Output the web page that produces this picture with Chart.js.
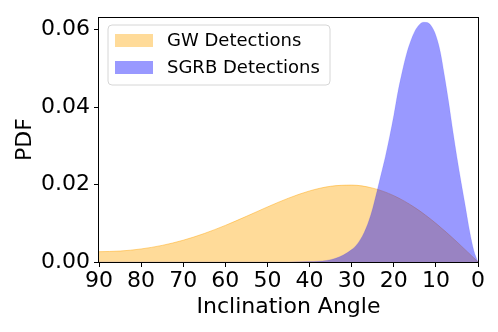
<!DOCTYPE html>
<html>
<head>
<meta charset="utf-8">
<script src="https://cdn.jsdelivr.net/npm/chart.js@4/dist/chart.umd.min.js"></script>
<style>
  html, body { margin: 0; padding: 0; background: #fff; }
  #wrap { width: 498px; height: 332px; }
</style>
</head>
<body>
<div id="wrap"><canvas id="chart" width="498" height="332"></canvas></div>
<script>
const gwAngles = [90, 85, 80, 75, 70, 65, 60, 55, 50, 45, 40, 35, 30, 25, 20, 15, 10, 5, 0];
const gwPdf = [0.00266, 0.00283, 0.00337, 0.00429, 0.00562, 0.00736, 0.00945, 0.01179, 0.01421,
  0.01648, 0.01835, 0.01955, 0.01985, 0.01907, 0.01713, 0.01405, 0.00998, 0.00519, 0];

const sgrbAngles = [90, 50, 45, 40, 38, 36, 34, 32, 30, 29, 28, 27, 26, 25, 24, 23, 22, 21, 20, 19,
  18, 17, 16, 15, 14, 13, 12, 11, 10, 9, 8, 7, 6, 5, 4, 3, 2, 1, 0];
const sgrbPdf = [0, 0, 0, 0.0001, 0.0002, 0.0004, 0.0009, 0.0018, 0.0032, 0.0042, 0.0057, 0.0077,
  0.0104, 0.0139, 0.0182, 0.0227, 0.0272, 0.0323, 0.0378, 0.0440, 0.0491, 0.0536, 0.0570, 0.0596,
  0.0612, 0.0619, 0.0618, 0.0608, 0.0585, 0.0545, 0.0483, 0.0415, 0.0340, 0.0270, 0.0205, 0.0143,
  0.0080, 0.0030, 0];

const xTicks = [90, 80, 70, 60, 50, 40, 30, 20, 10, 0];
const yTicks = [0, 0.02, 0.04, 0.06];
const seriesNames = ["GW Detections", "SGRB Detections"];

const FONT = "'DejaVu Sans', sans-serif";

const toPoints = (xs, ys) => xs.map((x, i) => ({ x: x, y: ys[i] }));

// matplotlib style frame + legend box inside the axes
const framePlugin = {
  id: "frame",
  afterDraw(chart) {
    const c = chart.ctx;
    const a = chart.chartArea;
    c.save();
    c.strokeStyle = "#000";
    c.lineWidth = 1;
    c.strokeRect(Math.round(a.left) - 0.5, Math.round(a.top) + 0.5,
      Math.round(a.right - a.left) + 1, Math.round(a.bottom - a.top));

    // legend
    const lx = 108, ly = 25, lw = 222, lh = 60, r = 4;
    c.beginPath();
    c.moveTo(lx + r, ly);
    c.arcTo(lx + lw, ly, lx + lw, ly + lh, r);
    c.arcTo(lx + lw, ly + lh, lx, ly + lh, r);
    c.arcTo(lx, ly + lh, lx, ly, r);
    c.arcTo(lx, ly, lx + lw, ly, r);
    c.closePath();
    c.fillStyle = "rgba(255,255,255,0.8)";
    c.fill();
    c.strokeStyle = "#d6d6d6";
    c.stroke();

    const ds = chart.data.datasets;
    c.font = "18px " + FONT;
    c.textBaseline = "middle";
    c.textAlign = "left";
    seriesNames.forEach((name, i) => {
      const py = 34 + i * 27;
      c.fillStyle = ds[i].backgroundColor;
      c.fillRect(115, py, 38, 13);
      c.fillStyle = "#000";
      c.fillText(name, 167, py + 7);
    });
    c.restore();
  },
};

const chart = new Chart(document.getElementById("chart"), {
  type: "line",
  data: {
    datasets: [
      {
        label: seriesNames[0],
        data: toPoints(gwAngles, gwPdf),
        backgroundColor: "rgba(255,165,0,0.4)",
        borderColor: "rgba(255,165,0,0.45)",
        borderWidth: 1,
        fill: "origin",
        pointRadius: 0,
        cubicInterpolationMode: "monotone",
        order: 1,
      },
      {
        label: seriesNames[1],
        data: toPoints(sgrbAngles, sgrbPdf),
        backgroundColor: "rgba(0,0,255,0.4)",
        borderColor: "rgba(0,0,255,0.12)",
        borderWidth: 1,
        fill: "origin",
        pointRadius: 0,
        cubicInterpolationMode: "monotone",
        order: 0,
      },
    ],
  },
  options: {
    responsive: false,
    animation: false,
    layout: { padding: { top: 16, right: 20, left: 0, bottom: 0 } },
    plugins: {
      legend: { display: false },
      tooltip: { enabled: false },
    },
    scales: {
      x: {
        type: "linear",
        reverse: true,
        min: 0,
        max: 90,
        afterBuildTicks: (s) => { s.ticks = xTicks.map((v) => ({ value: v })); },
        afterFit: (s) => { s.height = 70; },
        grid: { display: true, drawOnChartArea: false, drawTicks: true, tickLength: 5, tickColor: "#000" },
        border: { display: false },
        ticks: { color: "#000", font: { family: FONT, size: 22 }, padding: 1, maxRotation: 0, autoSkip: false },
        title: { display: true, text: "Inclination Angle", color: "#000", font: { family: FONT, size: 22 }, padding: { top: 0, bottom: 12 } },
      },
      y: {
        type: "linear",
        min: 0,
        max: 0.0632,
        afterBuildTicks: (s) => { s.ticks = yTicks.map((v) => ({ value: v })); },
        afterFit: (s) => { s.width = 99; },
        grid: { display: true, drawOnChartArea: false, drawTicks: true, tickLength: 5, tickColor: "#000" },
        border: { display: false },
        ticks: { color: "#000", font: { family: FONT, size: 22 }, padding: 4, callback: (v) => v.toFixed(2) },
        title: { display: true, text: "PDF", color: "#000", font: { family: FONT, size: 22 }, padding: { top: 12, bottom: 0 } },
      },
    },
  },
  plugins: [framePlugin],
});
</script>
</body>
</html>
